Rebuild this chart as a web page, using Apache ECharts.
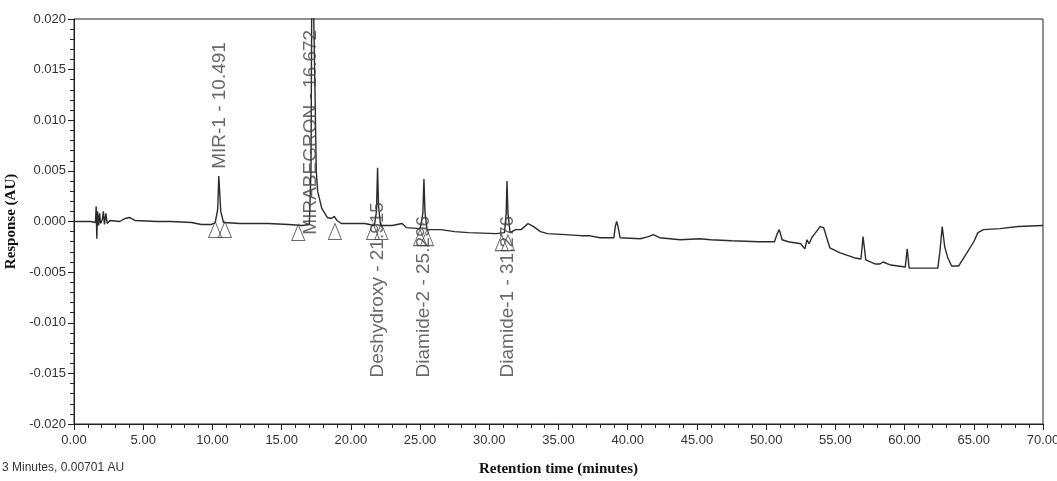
<!DOCTYPE html>
<html>
<head>
<meta charset="utf-8">
<title>Chromatogram</title>
<script src="https://cdn.jsdelivr.net/npm/echarts@6/dist/echarts.min.js"></script>
<style>
  html, body { margin: 0; padding: 0; background: #fff; }
  #chart { width: 1057px; height: 481px; }
</style>
</head>
<body>
<div id="chart"></div>
<script>
  // retention time (min) and detector response (AU)
  const times = [
    0.0, 1.2, 1.55, 1.6, 1.65, 1.7, 1.78, 1.85, 1.92, 2.05, 2.12, 2.2, 2.3, 2.4, 2.6,
    3.3, 3.7, 4.0, 4.4, 6.0, 7.0, 8.5, 9.2, 9.9,
    10.2, 10.38, 10.46, 10.52, 10.6, 10.8, 12.0, 14.0, 15.5, 15.6, 16.5, 17.0,
    17.12, 17.2, 17.33, 17.42, 17.5, 17.6, 17.9, 18.3, 18.6, 18.8, 19.0, 19.3, 20.0, 21.0,
    21.7, 21.85, 21.93, 22.0, 22.15, 23.0, 23.7, 24.0, 25.0,
    25.2, 25.28, 25.35, 25.5, 26.5, 27.5, 28.5, 30.5, 31.1,
    31.22, 31.28, 31.35, 31.5, 31.9, 32.3, 32.8, 33.2, 33.7, 34.2, 35.5, 36.6, 37.2, 38.0, 39.0,
    39.1, 39.2, 39.3, 39.45, 40.9, 41.5, 41.85, 42.3, 43.8, 45.2, 46.0, 47.5, 49.5, 50.6,
    50.8, 50.95, 51.15, 51.6, 52.5, 52.8, 52.95, 53.1, 53.3, 53.9, 54.15, 54.6, 55.35, 56.4, 56.85,
    57.0, 57.2, 57.9, 58.2, 58.45, 59.0, 60.05, 60.19, 60.33, 62.4, 62.55, 62.72, 62.9, 63.1,
    63.4, 63.9, 64.5, 65.0, 65.3, 65.7, 66.9, 68.2, 70.0
  ];
  const responses = [
    0.0000, 0.0000, -0.0001, 0.0015, -0.0017, 0.0010, -0.0004, 0.0008, -0.0002, 0.0002, 0.0010, -0.0003, 0.0008, -0.0002, 0.0001,
    0.0000, 0.0003, 0.0004, 0.0001, 0.0000, 0.0000, -0.0001, -0.0003, -0.0003,
    -0.0001, 0.0012, 0.0045, 0.0030, 0.0010, -0.0001, -0.0002, -0.0002, -0.0003, -0.0004, -0.0004, -0.0003,
    0.0050, 0.0300, 0.0300, 0.0120, 0.0050, 0.0030, 0.0013, 0.0004, 0.0003, 0.0005, 0.0001, -0.0002, -0.0002, -0.0002,
    -0.0004, 0.0010, 0.0053, 0.0015, -0.0004, -0.0004, -0.0002, -0.0006, -0.0007,
    0.0008, 0.0042, 0.0010, -0.0008, -0.0008, -0.0010, -0.0011, -0.0012, -0.0011,
    0.0008, 0.0040, 0.0008, -0.0011, -0.0008, -0.0008, -0.0002, -0.0005, -0.0010, -0.0012, -0.0013, -0.0014, -0.0014, -0.0016, -0.0016,
    -0.0005, 0.0000, -0.0005, -0.0016, -0.0017, -0.0015, -0.0013, -0.0016, -0.0018, -0.0017, -0.0018, -0.0019, -0.0020, -0.0020,
    -0.0012, -0.0008, -0.0018, -0.0020, -0.0022, -0.0027, -0.0018, -0.0022, -0.0016, -0.0005, -0.0006, -0.0026, -0.0031, -0.0036, -0.0037,
    -0.0015, -0.0038, -0.0042, -0.0042, -0.0040, -0.0043, -0.0045, -0.0027, -0.0046, -0.0046, -0.0030, -0.0005, -0.0025, -0.0035,
    -0.0044, -0.0044, -0.0031, -0.0020, -0.0011, -0.0008, -0.0007, -0.0005, -0.0004
  ];

  const peakLabels = ['MIR-1 - 10.491', 'MIRABEGRON - 16.672', 'Deshydroxy - 21.915', 'Diamide-2 - 25.296', 'Diamide-1 - 31.276'];
  const peakTimes = [10.52, 17.1, 21.95, 25.3, 31.3];

  // peak start / end markers (triangles)
  const markerTimes = [10.2, 10.9, 16.2, 18.85, 21.6, 22.2, 25.0, 25.5, 30.9, 31.35];
  const markerValues = [0.0000, 0.0000, -0.0003, -0.0002, -0.0002, -0.0002, -0.0008, -0.0008, -0.0013, -0.0013];

  const xTicks = { min: 0, max: 70, step: 5 };
  const yTicks = { min: -0.02, max: 0.02, step: 0.005 };

  const tickFont = "'Liberation Sans Narrow', 'Liberation Sans', Arial, sans-serif";
  // where the bottom of each rotated label sits (AU); layout only
  const labelBase = [0.0052, -0.0013, -0.0154, -0.0154, -0.0154];

  let chart = echarts.init(document.getElementById('chart'));
  chart.setOption({
    animation: false,
    grid: {
      left: 74, right: 14, top: 19, bottom: 57,
      outerBoundsMode: 'none',
      containLabel: false,
      show: true, borderColor: '#222', borderWidth: 1, backgroundColor: 'transparent'
    },
    xAxis: {
      type: 'value',
      min: xTicks.min, max: xTicks.max, interval: xTicks.step,
      name: 'Retention time (minutes)',
      nameLocation: 'middle',
      nameGap: 38,
      nameTextStyle: { fontFamily: "'Liberation Serif', serif", fontWeight: 'bold', fontSize: 15, color: '#111' },
      axisLine: { onZero: false, lineStyle: { color: '#222' } },
      axisTick: { length: 6, lineStyle: { color: '#222' } },
      minorTick: { show: true, splitNumber: 5, length: 4, lineStyle: { color: '#222' } },
      splitLine: { show: false },
      axisLabel: {
        margin: 10, fontFamily: tickFont, fontSize: 13, color: '#333',
        formatter: v => v.toFixed(2)
      }
    },
    yAxis: {
      type: 'value',
      min: yTicks.min, max: yTicks.max, interval: yTicks.step,
      name: 'Response (AU)',
      nameLocation: 'middle',
      nameGap: 49,
      nameTextStyle: { fontFamily: "'Liberation Serif', serif", fontWeight: 'bold', fontSize: 15, color: '#111' },
      axisLine: { show: true, onZero: false, lineStyle: { color: '#222' } },
      axisTick: { show: true, length: 6, lineStyle: { color: '#222' } },
      minorTick: { show: true, splitNumber: 5, length: 4, lineStyle: { color: '#222' } },
      splitLine: { show: false },
      axisLabel: {
        margin: 8, fontFamily: tickFont, fontSize: 13, color: '#333',
        formatter: v => v.toFixed(3)
      }
    },
    series: [
      {
        name: 'trace',
        type: 'line',
        data: times.map((t, i) => [t, responses[i]]),
        showSymbol: false,
        clip: true,
        lineStyle: { color: '#2b2b2b', width: 1.4 },
        z: 3
      },
      {
        name: 'markers',
        type: 'scatter',
        data: markerTimes.map((t, i) => [t, markerValues[i]]),
        symbol: 'triangle',
        symbolSize: [13, 16],
        symbolOffset: [0, '50%'],
        itemStyle: { color: 'rgba(255,255,255,0)', borderColor: '#444', borderWidth: 1 },
        z: 4
      },
      {
        name: 'labels',
        type: 'scatter',
        data: peakTimes.map((t, i) => ({ value: [t, labelBase[i]], name: peakLabels[i] })),
        symbolSize: 1,
        itemStyle: { color: 'rgba(0,0,0,0)' },
        label: {
          show: true,
          position: 'inside',
          rotate: 90,
          align: 'left',
          verticalAlign: 'middle',
          formatter: p => p.name,
          fontFamily: "'Liberation Sans', Arial, sans-serif",
          fontSize: 19,
          color: '#444'
        },
        z: 5
      }
    ],
    graphic: [
      {
        type: 'text',
        left: 2,
        top: 462,
        style: {
          text: '3 Minutes, 0.00701 AU',
          font: "12px 'Liberation Sans Narrow', 'Liberation Sans', Arial, sans-serif",
          fill: '#333'
        }
      }
    ]
  });
</script>
</body>
</html>
